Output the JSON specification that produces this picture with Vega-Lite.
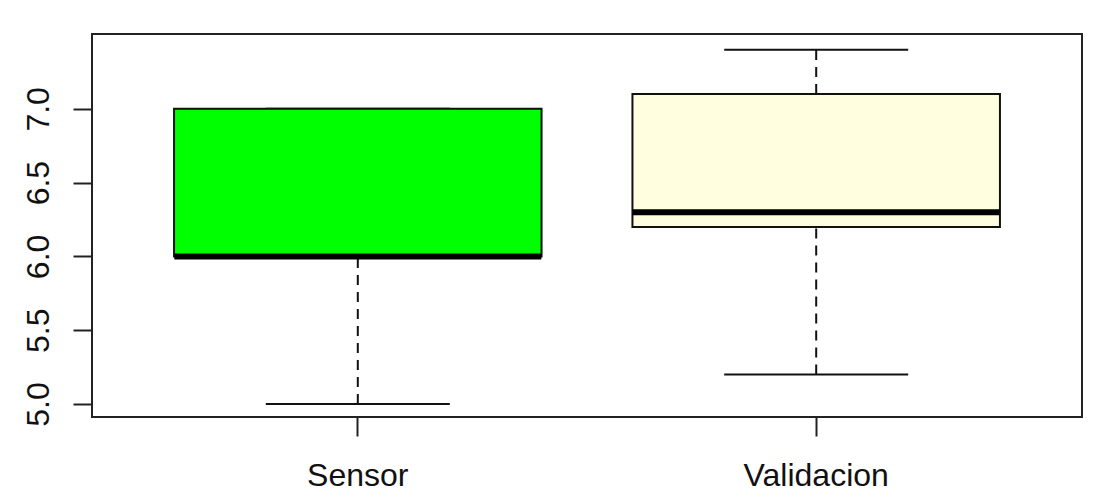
{
  "$schema": "https://vega.github.io/schema/vega-lite/v6.json",
  "width": 990,
  "height": 383,
  "autosize": {"type": "none"},
  "padding": {"left": 92, "top": 34, "right": 22, "bottom": 84},
  "background": "white",
  "config": {
    "view": {"stroke": "#222222", "strokeWidth": 2},
    "font": "Liberation Sans"
  },
  "data": {
    "values": [
      {"group": "Sensor", "min": 5.0, "q1": 6.0, "median": 6.0, "q3": 7.0, "max": 7.0},
      {"group": "Validacion", "min": 5.2, "q1": 6.2, "median": 6.3, "q3": 7.1, "max": 7.4}
    ]
  },
  "encoding": {
    "x": {
      "field": "group",
      "type": "nominal",
      "sort": ["Sensor", "Validacion"],
      "scale": {"paddingInner": 0.1983, "paddingOuter": 0.179},
      "axis": {
        "title": null,
        "domain": false,
        "grid": false,
        "tickSize": 19,
        "tickWidth": 2,
        "tickColor": "#222222",
        "labelAngle": 0,
        "labelBaseline": "alphabetic",
        "labelPadding": 49,
        "labelFont": "Liberation Sans",
        "labelFontSize": 32,
        "labelColor": "#111111"
      }
    }
  },
  "layer": [
    {
      "mark": {"type": "rule", "strokeDash": [10, 7], "strokeWidth": 2, "color": "#111111"},
      "encoding": {
        "y": {
          "field": "min",
          "type": "quantitative",
          "scale": {"domain": [4.912, 7.507], "nice": false, "zero": false},
          "axis": {
            "title": null,
            "domain": false,
            "grid": false,
            "values": [5, 5.5, 6, 6.5, 7],
            "format": ".1f",
            "tickSize": 19,
            "tickWidth": 2,
            "tickColor": "#222222",
            "labelAngle": -90,
            "labelAlign": "center",
            "labelBaseline": "alphabetic",
            "labelPadding": 25,
            "labelFont": "Liberation Sans",
            "labelFontSize": 32,
            "labelColor": "#111111"
          }
        },
        "y2": {"field": "q1"}
      }
    },
    {
      "mark": {"type": "rule", "strokeDash": [10, 7], "strokeWidth": 2, "color": "#111111"},
      "encoding": {
        "y": {"field": "q3", "type": "quantitative"},
        "y2": {"field": "max"}
      }
    },
    {
      "mark": {"type": "tick", "size": 184, "thickness": 2, "color": "#111111", "opacity": 1},
      "encoding": {"y": {"field": "min", "type": "quantitative"}}
    },
    {
      "mark": {"type": "tick", "size": 184, "thickness": 2, "color": "#111111", "opacity": 1},
      "encoding": {"y": {"field": "max", "type": "quantitative"}}
    },
    {
      "mark": {"type": "bar", "stroke": "#111111", "strokeWidth": 2, "opacity": 1},
      "encoding": {
        "y": {"field": "q1", "type": "quantitative"},
        "y2": {"field": "q3"},
        "fill": {
          "field": "group",
          "type": "nominal",
          "scale": {"domain": ["Sensor", "Validacion"], "range": ["#00FF00", "#FFFFE0"]},
          "legend": null
        }
      }
    },
    {
      "mark": {"type": "tick", "size": 367, "thickness": 6, "color": "#000000", "opacity": 1},
      "encoding": {"y": {"field": "median", "type": "quantitative"}}
    }
  ]
}
